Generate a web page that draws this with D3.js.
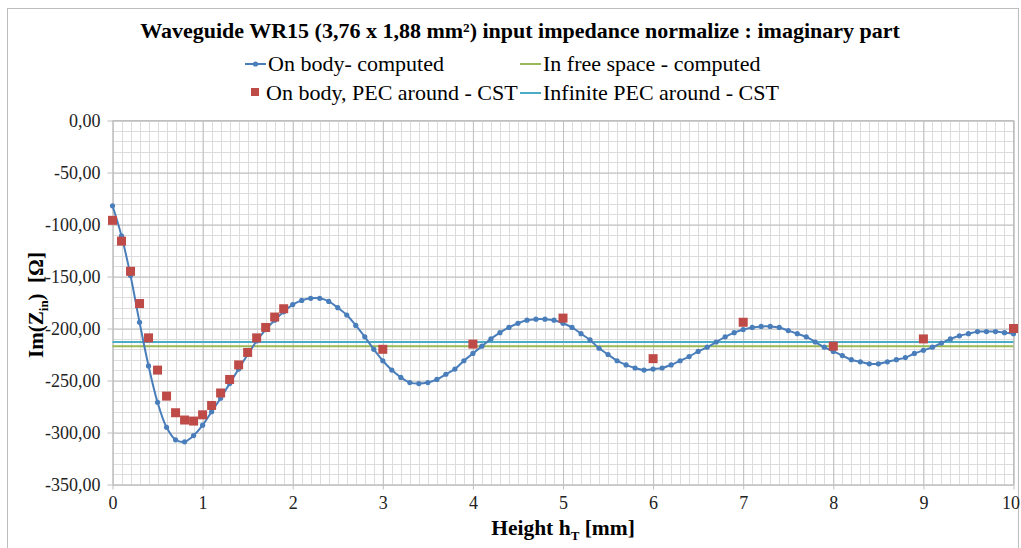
<!DOCTYPE html>
<html>
<head>
<meta charset="utf-8">
<script src="https://cdn.jsdelivr.net/npm/d3@7"></script>
<style>
  body { margin: 0; background: #fff; }
  svg { display: block; }
  svg text { font-family: "Liberation Serif", "DejaVu Serif", serif; }
</style>
</head>
<body>
<svg id="chart" width="1021" height="548"></svg>
<script>
// ---------- data ----------
const heights = [0,0.1,0.2,0.3,0.4,0.5,0.6,0.7,0.8,0.9,1,1.1,1.2,1.3,1.4,1.5,1.6,1.7,1.8,1.9,
  2,2.1,2.2,2.3,2.4,2.5,2.6,2.7,2.8,2.9,3,3.1,3.2,3.3,3.4,3.5,3.6,3.7,3.8,3.9,
  4,4.1,4.2,4.3,4.4,4.5,4.6,4.7,4.8,4.9,5,5.1,5.2,5.3,5.4,5.5,5.6,5.7,5.8,5.9,
  6,6.1,6.2,6.3,6.4,6.5,6.6,6.7,6.8,6.9,7,7.1,7.2,7.3,7.4,7.5,7.6,7.7,7.8,7.9,
  8,8.1,8.2,8.3,8.4,8.5,8.6,8.7,8.8,8.9,9,9.1,9.2,9.3,9.4,9.5,9.6,9.7,9.8,9.9,10];
const onBodyComputed = [-82,-111,-149,-194,-236,-271,-295,-307,-309,-303,
  -293,-280,-267,-253,-239,-225,-212,-201,-192,-184,
  -177,-173,-171,-171,-174,-180,-187,-197,-208,-220,
  -231,-240,-247,-252,-253,-252,-249,-244,-239,-231,
  -224,-217,-210,-204,-199,-195,-192,-191,-191,-192,
  -195,-199,-205,-211,-219,-225,-231,-235,-238,-240,
  -239,-238,-235,-231,-227,-222,-218,-213,-208,-204,
  -201,-199,-198,-198,-199,-202,-205,-208,-213,-218,
  -222,-226,-230,-232,-234,-234,-232,-230,-228,-224,
  -221,-218,-214,-210,-207,-205,-203,-203,-203,-204,-205];
const cstHeights = [0,0.1,0.2,0.3,0.4,0.5,0.6,0.7,0.8,0.9,1,1.1,1.2,1.3,1.4,1.5,1.6,1.7,1.8,1.9,3,4,5,6,7,8,9,10];
const onBodyCST = [-96,-116,-145,-176,-209,-240,-265,-281,-288,-289,-283,-274,-262,-249,-235,-223,-209,-199,-189,-181,-220,-215,-190,-229,-194,-217,-210,-200];
const freeSpaceValue = -217;
const infinitePECValue = -213;
const xTicks = [0,1,2,3,4,5,6,7,8,9,10];
const yTicks = [0,-50,-100,-150,-200,-250,-300,-350];
const seriesNames = ["On body- computed", "In free space - computed", "On body, PEC around - CST", "Infinite PEC around - CST"];
const titleText = "Waveguide WR15 (3,76 x 1,88 mm²) input impedance normalize : imaginary part";

// ---------- layout ----------
const FONT = "Liberation Serif, DejaVu Serif, serif";
const svg = d3.select("#chart").attr("font-family", FONT);
const L = 112.5, R = 1013.5, T = 120.5, B = 484.5;
const x = d3.scaleLinear().domain([0, 10]).range([L, R]);
const y = d3.scaleLinear().domain([-350, 0]).range([B, T]);
const colBlue = "#4a7ebb", colRed = "#be4b48", colGreen = "#98b954", colCyan = "#4bacc6";

// outer border
svg.append("rect").attr("x", 7.5).attr("y", 8.5).attr("width", 1011).attr("height", 545)
  .attr("fill", "none").attr("stroke", "#bdbdbd").attr("stroke-width", 1);

// minor grid
const g = svg.append("g");
const minorX = d3.range(0, 101).map(i => i / 10);
const minorY = d3.range(0, 36).map(i => -i * 10);
g.selectAll(".mx").data(minorX).join("line")
  .attr("x1", d => Math.round(x(d)) + 0.5).attr("x2", d => Math.round(x(d)) + 0.5)
  .attr("y1", T).attr("y2", B).attr("stroke", "#dcdcdc").attr("stroke-width", 1);
g.selectAll(".my").data(minorY).join("line")
  .attr("y1", d => Math.round(y(d)) + 0.5).attr("y2", d => Math.round(y(d)) + 0.5)
  .attr("x1", L).attr("x2", R).attr("stroke", "#dcdcdc").attr("stroke-width", 1);

// axes with major grid
const fmt = d => d3.format(".2f")(d).replace(".", ",").replace("−", "-");
const yAxis = svg.append("g").attr("transform", `translate(${L},0)`)
  .call(d3.axisLeft(y).tickValues(yTicks).tickSize(-(R - L)).tickSizeOuter(0).tickPadding(12).tickFormat(fmt));
yAxis.attr("font-family", FONT).attr("font-size", 18);
yAxis.select(".domain").attr("stroke", "#bfbfbf");
yAxis.selectAll(".tick line").attr("stroke", "#bfbfbf").attr("x1", -5);
yAxis.selectAll(".tick text").attr("fill", "#222");

const xAxis = svg.append("g").attr("transform", `translate(0,${B})`)
  .call(d3.axisBottom(x).tickValues(xTicks).tickSize(-(B - T)).tickSizeOuter(0).tickPadding(12).tickFormat(d3.format("d")));
xAxis.attr("font-family", FONT).attr("font-size", 18);
xAxis.select(".domain").attr("stroke", "#bfbfbf");
xAxis.selectAll(".tick line").attr("stroke", "#bfbfbf").attr("y1", 5);
xAxis.selectAll(".tick text").attr("fill", "#222")
  .attr("dx", d => d === 10 ? -3 : 0);

// plot frame
svg.append("line").attr("x1", R).attr("x2", R).attr("y1", T).attr("y2", B).attr("stroke", "#bfbfbf");
svg.append("line").attr("x1", L).attr("x2", R).attr("y1", T).attr("y2", T).attr("stroke", "#bfbfbf");

// horizontal reference lines
svg.append("line").attr("x1", x(0)).attr("x2", x(10)).attr("y1", y(freeSpaceValue)).attr("y2", y(freeSpaceValue))
  .attr("stroke", colGreen).attr("stroke-width", 2);
svg.append("line").attr("x1", x(0)).attr("x2", x(10)).attr("y1", y(infinitePECValue)).attr("y2", y(infinitePECValue))
  .attr("stroke", colCyan).attr("stroke-width", 2);

// on body computed (smoothed line + dots)
const pts = heights.map((h, i) => [h, onBodyComputed[i]]);
svg.append("path").datum(pts)
  .attr("d", d3.line().x(d => x(d[0])).y(d => y(d[1])).curve(d3.curveCatmullRom.alpha(0.5)))
  .attr("fill", "none").attr("stroke", colBlue).attr("stroke-width", 2);
svg.selectAll(".dot").data(pts).join("circle")
  .attr("cx", d => x(d[0])).attr("cy", d => y(d[1])).attr("r", 2.6).attr("fill", colBlue);

// CST squares
const cst = cstHeights.map((h, i) => [h, onBodyCST[i]]);
svg.selectAll(".sq").data(cst).join("rect")
  .attr("x", d => x(d[0]) - 4.5).attr("y", d => y(d[1]) - 4.5)
  .attr("width", 9).attr("height", 9).attr("fill", colRed);

// title
svg.append("text").attr("x", 520).attr("y", 38).attr("text-anchor", "middle")
  .attr("font-size", 22).attr("font-weight", "bold").attr("fill", "#000").text(titleText);

// legend
const leg = svg.append("g").attr("font-size", 22).attr("font-family", FONT);
function legLine(x0, yy, color, dot) {
  leg.append("line").attr("x1", x0).attr("x2", x0 + 21).attr("y1", yy).attr("y2", yy)
    .attr("stroke", color).attr("stroke-width", 2);
  if (dot) leg.append("circle").attr("cx", x0 + 10.5).attr("cy", yy).attr("r", 2.6).attr("fill", color);
}
legLine(245, 64, colBlue, true);
leg.append("text").attr("x", 268).attr("y", 71).text(seriesNames[0]);
legLine(520, 64, colGreen, false);
leg.append("text").attr("x", 543).attr("y", 71).text(seriesNames[1]);
leg.append("rect").attr("x", 251).attr("y", 88).attr("width", 8).attr("height", 8).attr("fill", colRed);
leg.append("text").attr("x", 266).attr("y", 100).text(seriesNames[2]);
legLine(520, 93, colCyan, false);
leg.append("text").attr("x", 543).attr("y", 100).text(seriesNames[3]);

// axis titles
const yt = svg.append("text").attr("transform", "translate(43,305) rotate(-90)")
  .attr("text-anchor", "middle").attr("font-size", 21).attr("font-weight", "bold");
yt.append("tspan").text("Im(Z");
yt.append("tspan").attr("font-size", 13).attr("dy", 5).text("in");
yt.append("tspan").attr("dy", -5).text(")\u00a0\u00a0[Ω]");

const xt = svg.append("text").attr("x", 563).attr("y", 535).attr("text-anchor", "middle")
  .attr("font-size", 21.5).attr("font-weight", "bold");
xt.append("tspan").text("Height h");
xt.append("tspan").attr("font-size", 13).attr("dy", 5).text("T");
xt.append("tspan").attr("dy", -5).text("\u00a0[mm]");
</script>
</body>
</html>
